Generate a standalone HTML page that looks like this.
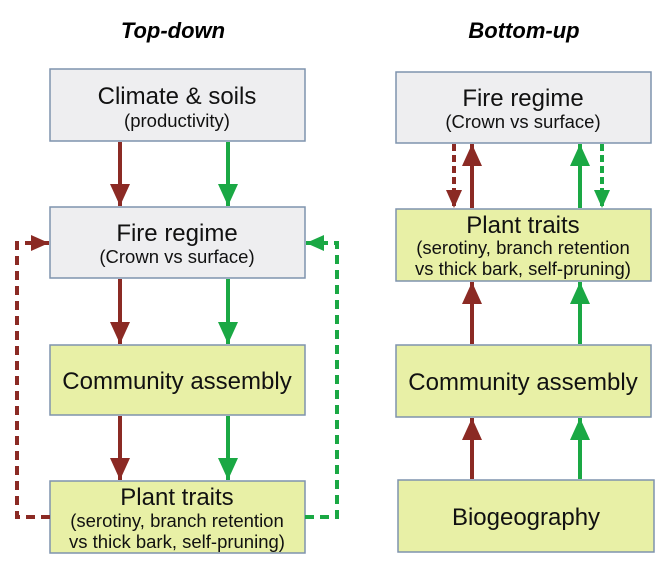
<!DOCTYPE html>
<html><head><style>body{margin:0;background:#fff}svg{display:block}</style></head>
<body>
<svg width="666" height="578" xmlns="http://www.w3.org/2000/svg" font-family="Liberation Sans, sans-serif">
<defs>
<marker id="r" markerWidth="22" markerHeight="22" refX="22" refY="11" orient="auto" markerUnits="userSpaceOnUse"><path d="M0,1 L22,11 L0,21 z" fill="#8b2a24"/></marker>
<marker id="g" markerWidth="22" markerHeight="22" refX="22" refY="11" orient="auto" markerUnits="userSpaceOnUse"><path d="M0,1 L22,11 L0,21 z" fill="#1aa844"/></marker>
<marker id="rs" markerWidth="18" markerHeight="18" refX="18" refY="9" orient="auto" markerUnits="userSpaceOnUse"><path d="M0,1 L18,9 L0,17 z" fill="#8b2a24"/></marker>
<marker id="gs" markerWidth="18" markerHeight="18" refX="18" refY="9" orient="auto" markerUnits="userSpaceOnUse"><path d="M0,1 L18,9 L0,17 z" fill="#1aa844"/></marker>
</defs>
<text x="173" y="38" text-anchor="middle" font-size="22" font-weight="bold" font-style="italic">Top-down</text>
<text x="524" y="38" text-anchor="middle" font-size="22" font-weight="bold" font-style="italic">Bottom-up</text>
<g stroke="#7f93ad" stroke-width="1.5">
<rect x="50" y="69" width="255" height="72" fill="#eeeef0"/>
<rect x="50" y="207" width="255" height="71" fill="#eeeef0"/>
<rect x="50" y="345" width="255" height="70" fill="#e8f0a6"/>
<rect x="50" y="481" width="255" height="72" fill="#e8f0a6"/>
<rect x="396" y="72" width="255" height="71" fill="#eeeef0"/>
<rect x="396" y="209" width="255" height="72" fill="#e8f0a6"/>
<rect x="396" y="345" width="255" height="72" fill="#e8f0a6"/>
<rect x="398" y="480" width="256" height="72" fill="#e8f0a6"/>
</g>
<g text-anchor="middle" fill="#111">
<text x="177" y="104" font-size="24">Climate &amp; soils</text>
<text x="177" y="127" font-size="18.5">(productivity)</text>
<text x="177" y="241" font-size="24">Fire regime</text>
<text x="177" y="263" font-size="18.5">(Crown vs surface)</text>
<text x="177" y="389" font-size="24">Community assembly</text>
<text x="177" y="505" font-size="24">Plant traits</text>
<text x="177" y="527" font-size="18.5">(serotiny, branch retention</text>
<text x="177" y="548" font-size="18.5">vs thick bark, self-pruning)</text>
<text x="523" y="106" font-size="24">Fire regime</text>
<text x="523" y="128" font-size="18.5">(Crown vs surface)</text>
<text x="523" y="233" font-size="24">Plant traits</text>
<text x="523" y="254" font-size="18.5">(serotiny, branch retention</text>
<text x="523" y="275" font-size="18.5">vs thick bark, self-pruning)</text>
<text x="523" y="390" font-size="24">Community assembly</text>
<text x="526" y="525" font-size="24">Biogeography</text>
</g>
<g stroke-width="4" fill="none">
<line x1="120" y1="142" x2="120" y2="206" stroke="#8b2a24" marker-end="url(#r)"/>
<line x1="228" y1="142" x2="228" y2="206" stroke="#1aa844" marker-end="url(#g)"/>
<line x1="120" y1="279" x2="120" y2="344" stroke="#8b2a24" marker-end="url(#r)"/>
<line x1="228" y1="279" x2="228" y2="344" stroke="#1aa844" marker-end="url(#g)"/>
<line x1="120" y1="416" x2="120" y2="480" stroke="#8b2a24" marker-end="url(#r)"/>
<line x1="228" y1="416" x2="228" y2="480" stroke="#1aa844" marker-end="url(#g)"/>
<polyline points="50,517 17,517 17,243 49,243" stroke="#8b2a24" stroke-dasharray="9,6" marker-end="url(#rs)"/>
<polyline points="305,517 337,517 337,243 306,243" stroke="#1aa844" stroke-dasharray="9,6" marker-end="url(#gs)"/>
<line x1="454" y1="144" x2="454" y2="208" stroke="#8b2a24" stroke-dasharray="7,4" marker-end="url(#rs)"/>
<line x1="472" y1="208" x2="472" y2="144" stroke="#8b2a24" marker-end="url(#r)"/>
<line x1="580" y1="208" x2="580" y2="144" stroke="#1aa844" marker-end="url(#g)"/>
<line x1="602" y1="144" x2="602" y2="208" stroke="#1aa844" stroke-dasharray="7,4" marker-end="url(#gs)"/>
<line x1="472" y1="344" x2="472" y2="282" stroke="#8b2a24" marker-end="url(#r)"/>
<line x1="580" y1="344" x2="580" y2="282" stroke="#1aa844" marker-end="url(#g)"/>
<line x1="472" y1="479" x2="472" y2="418" stroke="#8b2a24" marker-end="url(#r)"/>
<line x1="580" y1="479" x2="580" y2="418" stroke="#1aa844" marker-end="url(#g)"/>
</g>
</svg>
</body></html>
